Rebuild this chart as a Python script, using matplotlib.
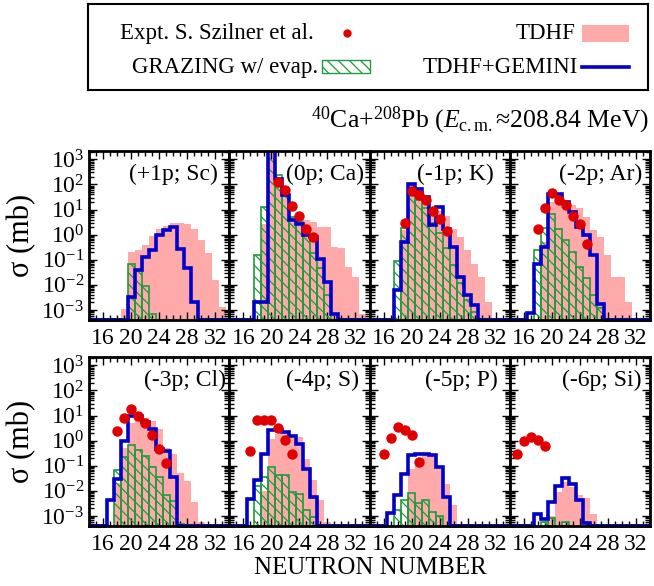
import numpy as np
import matplotlib.pyplot as plt
from matplotlib.ticker import FixedLocator, MultipleLocator, LogLocator, NullFormatter
from matplotlib.patches import Rectangle

plt.rcParams['font.family'] = ['Liberation Serif', 'DejaVu Serif']
plt.rcParams['mathtext.fontset'] = 'custom'
plt.rcParams['mathtext.rm'] = 'Liberation Serif'
plt.rcParams['mathtext.it'] = 'Liberation Serif:italic'
plt.rcParams['hatch.linewidth'] = 0.9

# neutron numbers of the histogram bins
N = np.arange(14, 35)

# ---- data (mb), one entry per N = 14..34 ----
sc_tdhf  = [0, 0, 0, 0, 0, 1.1e-3, 0.2, 0.25, 0.4, 0.9, 1.7, 2.3, 2.9, 2.9, 2.7, 1.7, 0.6, 0.18, 0.015, 1.3e-3, 0]
sc_gem   = [0, 0, 0, 0, 0, 0, 3.3e-3, 0.038, 0.13, 0.24, 0.93, 1.5, 2.0, 0.28, 0.045, 2.1e-3, 0, 0, 0, 0, 0]
sc_graz  = [0, 0, 0, 0, 0, 0, 0.066, 0.038, 9e-3, 6.8e-4, 0, 0, 0, 0, 0, 0, 0, 0, 0, 0, 0]
sc_expt_n = []
sc_expt   = []

ca_tdhf  = [0, 0, 0, 0, 0, 2.7, 5000, 150, 40, 5, 3.5, 3.7, 3.2, 2.0, 2.0, 0.32, 0.3, 0.05, 0.02, 7e-4, 0]
ca_gem   = [0, 0, 0, 0, 2.1e-3, 2.1e-3, 5000, 170, 37, 3.7, 2.7, 0.94, 0.8, 0.11, 0.013, 7e-4, 0, 0, 0, 0, 0]
ca_graz  = [0, 0, 0, 0, 0.15, 12.6, 5000, 230, 40, 5, 3.2, 0.94, 0.18, 0.049, 3.9e-3, 0, 0, 0, 0, 0, 0]
ca_expt_n = [21, 22, 23, 24, 25, 26]
ca_expt   = [125, 58, 13.8, 5.4, 1.6, 0.81]

k_tdhf   = [0, 0, 0, 0, 0, 1.5, 110, 70, 30, 10, 9, 5.4, 1.6, 0.8, 0.24, 0.07, 0.02, 2e-3, 0, 0, 0]
k_gem    = [0, 0, 0, 0, 6e-3, 0.5, 107, 68, 31, 2.35, 12.6, 1.7, 0.32, 0.02, 3.9e-3, 1.6e-3, 0, 0, 0, 0, 0]
k_graz   = [0, 0, 0, 0, 0.087, 1.9, 40, 25, 12, 3, 1.2, 0.3, 0.06, 0.012, 2.5e-3, 8e-4, 0, 0, 0, 0, 0]
k_expt_n = [19, 20, 21, 22, 23, 24, 25]
k_expt   = [2.9, 53, 37, 25, 8.8, 4.1, 1.4]

ar_tdhf  = [0, 0, 0, 0, 0, 0.5, 20, 25, 20, 15, 12, 5, 1.5, 0.8, 0.15, 0.02, 0.02, 2e-3, 0, 0, 0]
ar_gem   = [0, 0, 0, 7.6e-4, 0.07, 0.32, 43, 40, 20, 8, 2, 1, 0.15, 1.8e-3, 0, 0, 0, 0, 0, 0, 0]
ar_graz  = [0, 0, 0, 0, 0.24, 1.9, 6.9, 1.7, 0.6, 0.2, 0.05, 0.018, 4e-3, 1.2e-3, 0, 0, 0, 0, 0, 0, 0]
ar_expt_n = [18, 19, 20, 21, 22, 23, 24, 25]
ar_expt   = [1.7, 11, 45, 25, 14.6, 5.4, 2.7, 0.41]

cl_tdhf  = [0, 0, 0, 0, 0.02, 0.5, 5, 9, 8, 6, 3, 0.5, 0.3, 0.05, 0.025, 3.5e-3, 6e-4, 0, 0, 0, 0]
cl_gem   = [0, 0, 0, 4.2e-3, 0.031, 1.0, 9.3, 9.3, 5.5, 3.0, 0.48, 0.4, 0.036, 0, 0, 0, 0, 0, 0, 0, 0]
cl_graz  = [0, 0, 0, 0, 0.066, 0.22, 0.65, 0.41, 0.24, 0.09, 0.035, 6.6e-3, 3.9e-3, 5e-4, 0, 0, 0, 0, 0, 0, 0]
cl_expt_n = [18, 19, 20, 21, 22, 23, 24, 25]
cl_expt   = [2.35, 7.9, 17.6, 10, 5.2, 1.6, 0.48, 0.13]

s_tdhf   = [0, 0, 0, 0, 0, 0.01, 1.2, 1.9, 1.8, 1.6, 1.4, 0.19, 0.026, 4.2e-3, 5.8e-4, 0, 0, 0, 0, 0, 0]
s_gem    = [0, 0, 0, 4.9e-3, 0.026, 0.3, 2.7, 2.6, 2.2, 1.5, 0.76, 0.077, 5.7e-3, 0, 0, 0, 0, 0, 0, 0, 0]
s_graz   = [0, 0, 0, 0, 0.016, 0.036, 0.09, 0.042, 0.042, 9e-3, 7.3e-3, 1.7e-3, 8.7e-4, 0, 0, 0, 0, 0, 0, 0, 0]
s_expt_n = [17, 18, 19, 20, 21, 22, 23]
s_expt   = [0.39, 6.8, 6.8, 6.8, 3.3, 1.1, 0.29]

p_tdhf   = [0, 0, 0, 0, 0, 0, 0.077, 0.19, 0.26, 0.3, 0.09, 0.019, 2.7e-3, 0, 0, 0, 0, 0, 0, 0, 0]
p_gem    = [0, 0, 0, 1.3e-3, 6.6e-3, 0.049, 0.26, 0.29, 0.29, 0.26, 0.09, 5.7e-3, 0, 0, 0, 0, 0, 0, 0, 0, 0]
p_graz   = [0, 0, 0, 0, 1.8e-3, 4.2e-3, 8.5e-3, 3.3e-3, 4.5e-3, 1.4e-3, 1e-3, 0, 0, 0, 0, 0, 0, 0, 0, 0, 0]
p_expt_n = [16, 17, 18, 19, 20, 21]
p_expt   = [0.29, 1.3, 3.5, 2.6, 1.6, 0.14]

si_tdhf  = [0, 0, 0, 0, 0, 0, 1e-3, 9e-3, 0.023, 0.014, 6.7e-3, 5e-3, 1.2e-3, 0, 0, 0, 0, 0, 0, 0, 0]
si_gem   = [0, 0, 0, 0, 1.2e-3, 7.9e-4, 3.6e-3, 0.015, 0.033, 0.018, 4.2e-3, 5.3e-4, 0, 0, 0, 0, 0, 0, 0, 0, 0]
si_graz  = [0, 0, 0, 0, 0, 6e-4, 8e-4, 0, 5.5e-4, 0, 0, 0, 0, 0, 0, 0, 0, 0, 0, 0, 0]
si_expt_n = [15, 16, 17, 18, 19]
si_expt   = [0.3, 0.97, 1.4, 1.1, 0.6]

labels = ['(+1p; Sc)', '(0p; Ca)', '(-1p; K)', '(-2p; Ar)',
          '(-3p; Cl)', '(-4p; S)', '(-5p; P)', '(-6p; Si)']
panels = [
    (sc_tdhf, sc_graz, sc_gem, sc_expt_n, sc_expt),
    (ca_tdhf, ca_graz, ca_gem, ca_expt_n, ca_expt),
    (k_tdhf, k_graz, k_gem, k_expt_n, k_expt),
    (ar_tdhf, ar_graz, ar_gem, ar_expt_n, ar_expt),
    (cl_tdhf, cl_graz, cl_gem, cl_expt_n, cl_expt),
    (s_tdhf, s_graz, s_gem, s_expt_n, s_expt),
    (p_tdhf, p_graz, p_gem, p_expt_n, p_expt),
    (si_tdhf, si_graz, si_gem, si_expt_n, si_expt),
]
# right-edge offset (px from the panel's right border) of each panel label
label_pad = [11, 6, 16, 8, 3, 11, 12, 8]

PINK = '#ffaaaa'
GREEN = '#1f9a3c'
BLUE = '#0000c8'
RED = '#e00000'

W, H = 654, 586
PW, PH = 140.25, 169
YMIN, YMAX = 10 ** -3.4, 10 ** 3.33
edges = np.arange(13.5, 35.5, 1.0)

fig = plt.figure(figsize=(W / 100, H / 100), dpi=100)

for k, (tdhf, graz, gem, en, ev) in enumerate(panels):
    r, c = divmod(k, 4)
    x0 = 89 + PW * c
    y0 = 151 if r == 0 else 357
    ax = fig.add_axes([x0 / W, 1 - (y0 + PH) / H, PW / W, PH / H])
    ax.set_yscale('log')

    t = np.array(tdhf, float)
    g = np.array(graz, float)
    b = np.array(gem, float)

    ax.stairs(np.maximum(t, 1e-8), edges, baseline=1e-8, fill=True,
              color=PINK, lw=0, zorder=1)
    m = g > 0
    ax.bar(N[m], g[m], width=1.0, bottom=1e-8, facecolor='none',
           edgecolor=GREEN, hatch='\\\\\\', lw=1.2, zorder=2)
    ax.stairs(np.maximum(b, YMIN), edges, baseline=None, fill=False,
              color=BLUE, lw=2.6, zorder=3)
    # empty GEMINI bins lie on the bottom border
    z = b <= 0
    ax.hlines(np.full(z.sum(), YMIN), np.clip(edges[:-1][z], 14, 34),
              np.clip(edges[1:][z], 14, 34), color=BLUE, lw=2.6,
              clip_on=False, zorder=5)
    ax.plot(en, ev, 'o', color=RED, ms=7.5, mec='none', zorder=4)

    ax.set_xlim(14, 34)
    ax.set_ylim(YMIN, YMAX)
    ax.xaxis.set_major_locator(FixedLocator([16, 20, 24, 28, 32]))
    ax.xaxis.set_minor_locator(MultipleLocator(1))
    ax.yaxis.set_major_locator(FixedLocator(10.0 ** np.arange(-3, 4)))
    ax.yaxis.set_minor_locator(LogLocator(base=10, subs=np.arange(2, 10), numticks=20))
    ax.yaxis.set_minor_formatter(NullFormatter())
    if c == 0:
        ax.set_yticklabels(['10$^{%d}$' % e for e in range(-3, 4)])
    else:
        ax.set_yticklabels([])
    ax.tick_params(which='both', direction='in', top=True, right=True,
                   labelsize=17, width=1.0)
    ax.tick_params(axis='x', which='major', pad=6)
    ax.tick_params(which='major', length=6)
    ax.tick_params(which='minor', length=3.5)
    for s in ax.spines.values():
        s.set_linewidth(2)
        s.set_zorder(6)
    ax.text(1 - label_pad[k] / PW, 1 - 23 / PH, labels[k], transform=ax.transAxes,
            ha='right', va='center', fontsize=17, zorder=7)

# y labels and x label
for yc in (235.5, 441.5):
    fig.text(22 / W, 1 - yc / H, '\u03c3 (mb)', rotation=90, ha='center',
             va='center', fontsize=22)
fig.text(370 / W, 1 - 568 / H, 'NEUTRON NUMBER', ha='center', va='center', fontsize=18)
fig.text(649 / W, 1 - 120 / H,
         r'$^{40}$Ca+$^{208}$Pb ($E_{\rm c.m.}$' + '\u2248208.84 MeV)',
         ha='right', va='center', fontsize=18.5)

# legend box
lg = fig.add_axes([88 / W, 1 - 90 / H, 560 / W, 86 / H])
lg.set_xlim(88, 648)
lg.set_ylim(90, 4)
lg.set_xticks([])
lg.set_yticks([])
for s in lg.spines.values():
    s.set_linewidth(1.5)
lg.text(314, 33, 'Expt. S. Szilner et al.', ha='right', va='center', fontsize=16.5)
lg.plot([347], [33], 'o', color=RED, ms=6, mec='none')
lg.text(575, 33, 'TDHF', ha='right', va='center', fontsize=16.5)
lg.add_patch(Rectangle((582, 25), 47, 17, facecolor=PINK, lw=0))
lg.text(318, 67, 'GRAZING w/ evap.', ha='right', va='center', fontsize=16.5)
lg.add_patch(Rectangle((322, 60), 48, 13, facecolor='none', edgecolor=GREEN,
                       hatch='\\\\\\', lw=1.0))
lg.text(578, 67, 'TDHF+GEMINI', ha='right', va='center', fontsize=16.5)
lg.plot([582, 629], [67, 67], color=BLUE, lw=2.6)

fig.savefig('out.png', dpi=100)
